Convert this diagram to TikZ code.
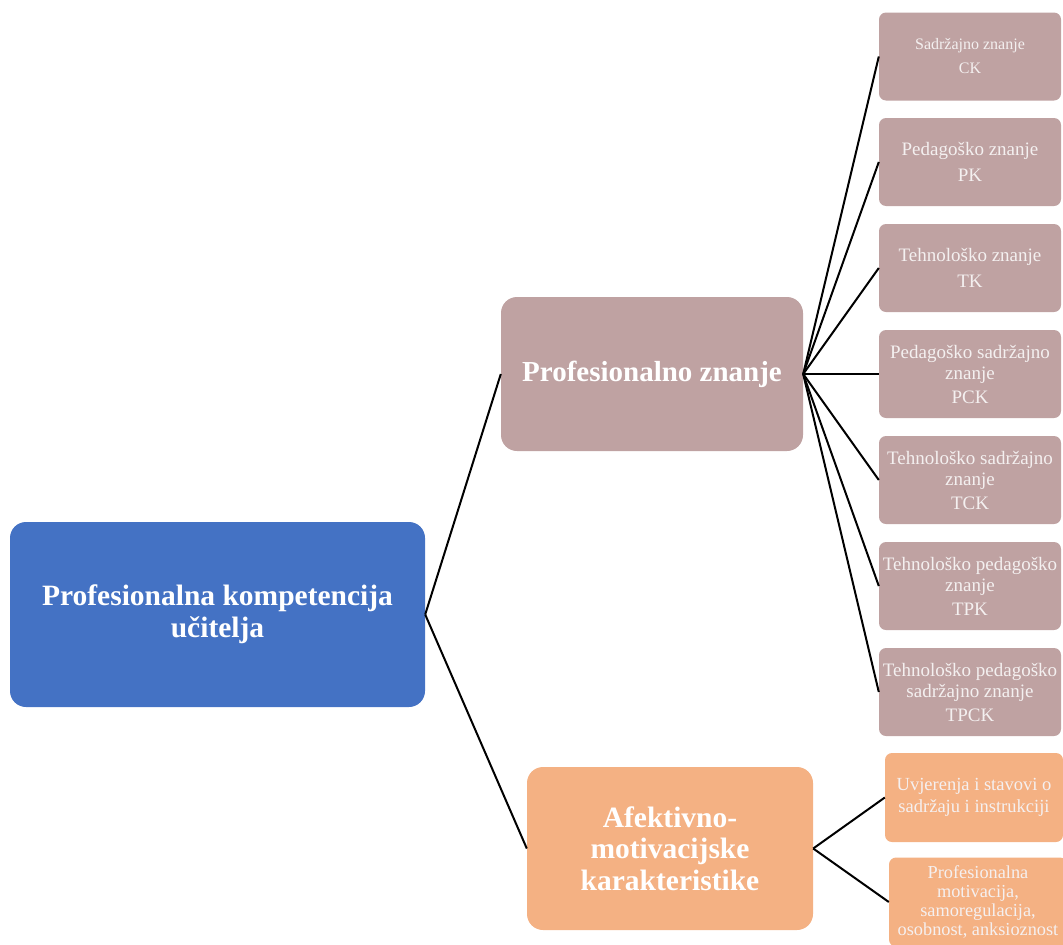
\documentclass[tikz,border=0pt]{standalone}
\usepackage{fontspec}
\setmainfont{Liberation Serif}
\definecolor{rootblue}{HTML}{4472C4}
\definecolor{rose}{HTML}{BFA2A2}
\definecolor{peach}{HTML}{F4B183}
\definecolor{lighttxt}{HTML}{F4F0F0}
\begin{document}
\begin{tikzpicture}[x=1pt,y=-1pt,
  box/.style={rectangle, rounded corners=#1, inner sep=1pt, align=center, anchor=center},
  box/.default=8pt,
  bigbox/.style={box=16pt, text=white, font=\bfseries},
  leaf/.style={box=7pt, fill=rose, text=lighttxt, minimum width=182pt, minimum height=88pt, font=\fontsize{19}{21}\selectfont},
  pleaf/.style={box=7pt, fill=peach, text=lighttxt, minimum width=178pt, minimum height=89pt, font=\fontsize{18.5}{22}\selectfont},
  link/.style={draw=black, line width=2pt}
]
\useasboundingbox (0,0) rectangle (1063,945);
\clip (0,0) rectangle (1063,945);

\node[bigbox, fill=rootblue, minimum width=415pt, minimum height=185pt, font=\bfseries\fontsize{29.5}{32}\selectfont] (root) at (217.5,614.5) {Profesionalna kompetencija\\učitelja};
\node[bigbox, fill=rose, minimum width=302pt, minimum height=154pt, font=\bfseries\fontsize{29}{34}\selectfont] (pz) at (652,374) {Profesionalno znanje};
\node[bigbox, fill=peach, minimum width=286pt, minimum height=163pt, font=\bfseries\fontsize{29.5}{31.5}\selectfont] (amk) at (670,848.5) {Afektivno-\\motivacijske\\karakteristike};

\node[leaf, font=\fontsize{16}{24}\selectfont] (ck) at (970,56.5) {Sadržajno znanje\\CK};
\node[leaf, font=\fontsize{19}{26}\selectfont] (pk) at (970,162) {Pedagoško znanje\\PK};
\node[leaf, font=\fontsize{19}{26}\selectfont] (tk) at (970,268) {Tehnološko znanje\\TK};
\node[leaf] (pck) at (970,374) {Pedagoško sadržajno\\znanje\\[3pt]PCK};
\node[leaf] (tck) at (970,480) {Tehnološko sadržajno\\znanje\\[3pt]TCK};
\node[leaf] (tpk) at (970,586) {Tehnološko pedagoško\\znanje\\[3pt]TPK};
\node[leaf] (tpck) at (970,692) {Tehnološko pedagoško\\sadržajno znanje\\[3pt]TPCK};

\node[pleaf] (uv) at (974,797.5) {Uvjerenja i stavovi o\\sadržaju i instrukciji};
\node[pleaf, minimum width=178pt, font=\fontsize{18.3}{19}\selectfont] (pm) at (978,902) {Profesionalna\\motivacija,\\samoregulacija,\\osobnost, anksioznost};

\draw[link] (root.east) -- (pz.west);
\draw[link] (root.east) -- (amk.west);
\foreach \n in {ck,pk,tk,pck,tck,tpk,tpck}{
  \draw[link] (pz.east) -- (\n.west);
}
\draw[link] (amk.east) -- (uv.west);
\draw[link] (amk.east) -- (pm.west);
\end{tikzpicture}
\end{document}
